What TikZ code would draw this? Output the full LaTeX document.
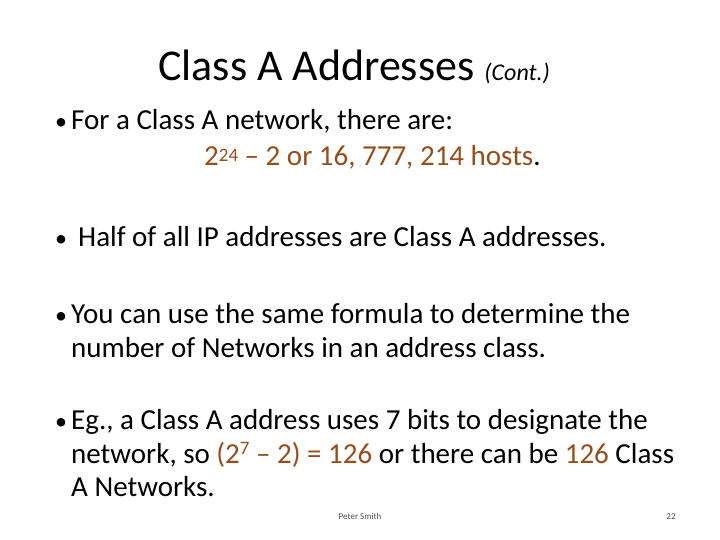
\documentclass[tikz,border=0pt]{standalone}
\usepackage{fontspec}
\setmainfont{Carlito}
\definecolor{accent}{RGB}{153,77,25}
\begin{document}
\begin{tikzpicture}[
  x=1pt, y=-1pt,
  body/.style={anchor=base west, inner sep=0pt, font=\fontsize{29}{35}\selectfont},
  bullet/.style={anchor=base west, inner sep=0pt, font=\fontsize{24}{29}\selectfont},
  foot/.style={anchor=base, inner sep=0pt, font=\fontsize{9}{11}\selectfont, text=black!70}
]
\useasboundingbox[fill=white] (0,0) rectangle (720,540);

% --- title ---
\node[anchor=base west, inner sep=0pt, font=\fontsize{44}{52}\selectfont] (title) at (158,81)
  {Class A Addresses {\fontsize{24}{29}\selectfont\itshape (Cont.)}};

% --- bullets ---
\node[bullet] (b1) at (55,130) {•};
\node[body] (t1) at (71,130) {For a Class A network, there are:};
\node[body, text=accent] (t1b) at (204,166) {2\raisebox{0.35ex}{\fontsize{19}{23}\selectfont 24} – 2 or 16, 777, 214 hosts{\color{black}.}};

\node[bullet] (b2) at (55,246) {•};
\node[body] (t2) at (78,246) {Half of all IP addresses are Class A addresses.};

\node[bullet] (b3) at (55,323) {•};
\node[body] (t3) at (71,323) {You can use the same formula to determine the};
\node[body] (t3b) at (71,357) {number of Networks in an address class.};

\node[bullet] (b4) at (55,429) {•};
\node[body] (t4) at (71,429) {Eg., a Class A address uses 7 bits to designate the};
\node[body] (t4b) at (71,463) {network, so {\color{accent}(2\raisebox{0.6ex}{\fontsize{19}{23}\selectfont 7} – 2) = 126} or there can be {\color{accent}126} Class};
\node[body] (t4c) at (71,496) {A Networks.};

% --- footer ---
\node[foot] (author) at (360,519) {Peter Smith};
\node[foot] (page) at (671,519) {22};
\end{tikzpicture}
\end{document}
